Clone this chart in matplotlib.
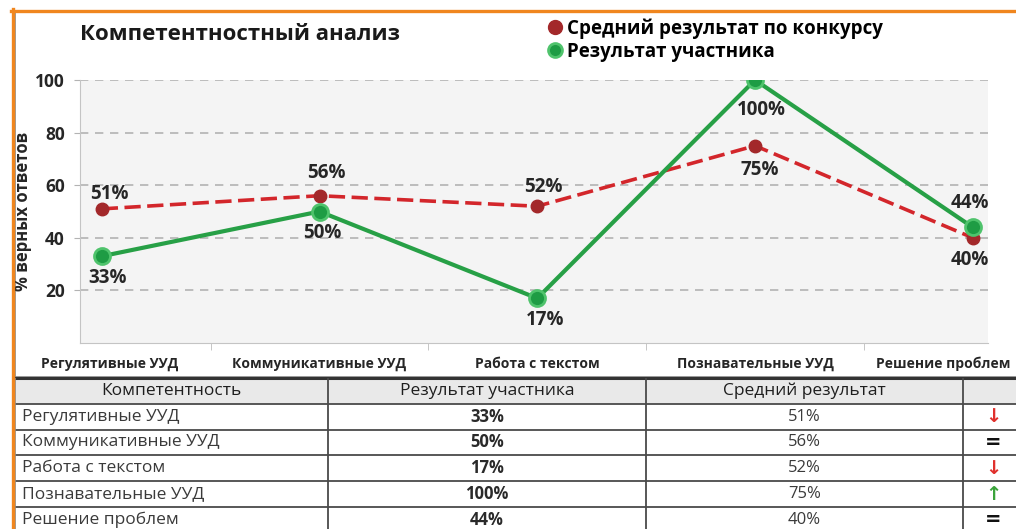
import matplotlib
matplotlib.use('Agg')
import matplotlib.pyplot as plt
import matplotlib.transforms as mtransforms
from matplotlib.lines import Line2D
from matplotlib.patches import Rectangle

plt.rcParams['font.family'] = ['Open Sans', 'DejaVu Sans']

# данные
categories = ['Регулятивные УУД', 'Коммуникативные УУД', 'Работа с текстом',
              'Познавательные УУД', 'Решение проблем']
avg_result = [51, 56, 52, 75, 40]
participant = [33, 50, 17, 100, 44]
y_ticks = [20, 40, 60, 80, 100]

table_header = ['Компетентность', 'Результат участника', 'Средний результат', '']

# смещения подписей (пиксели)
avg_offsets = [(8, 15), (7, 23), (6, 19), (5, -24), (-3, -22)]
part_offsets = [(6, -22), (3, -21), (8, -22), (6, -30), (-3, 24)]

RED_LINE = '#d3262b'
RED_MARK = '#a3282a'
GREEN = '#27a046'
GREEN_EDGE = '#4fc36c'
W, H = 1016, 529


def fx(px):
    return px / W


def fy(py):
    return 1 - py / H


fig = plt.figure(figsize=(W / 100, H / 100), dpi=100)
fig.patch.set_facecolor('white')

# рамка области диаграммы
fig.add_artist(Rectangle((fx(15), fy(377)), fx(1040), fy(11) - fy(377),
                         transform=fig.transFigure, fc='white', ec='#8a8a8a', lw=1.2,
                         zorder=-5))
fig.add_artist(Line2D([fx(12.5), fx(12.5)], [0, fy(9)], transform=fig.transFigure,
                      color='#f0861e', lw=2.4, zorder=5))
fig.add_artist(Line2D([fx(11), 1], [fy(10.5), fy(10.5)], transform=fig.transFigure,
                      color='#f0861e', lw=2.4, zorder=5))

ax = fig.add_axes([fx(80), fy(343), fx(908), fy(80) - fy(343)])
ax.set_facecolor('#f4f4f4')
x = list(range(len(categories)))

ax.plot(x, avg_result, color=RED_LINE, lw=2.6, ls=(0, (4.5, 1.8)), marker='o', ms=9,
        mfc=RED_MARK, mec=RED_MARK, zorder=3)
ax.plot(x, participant, color=GREEN, lw=3.0, marker='o', ms=11.5,
        mfc='#1e9c44', mec=GREEN_EDGE, mew=2, zorder=4)

for xi, v, off in zip(x, avg_result, avg_offsets):
    ax.annotate(f'{v}%', (xi, v), xytext=off, textcoords='offset pixels',
                ha='center', va='center', fontsize=13.5, fontweight='bold', color='#262626')
for xi, v, off in zip(x, participant, part_offsets):
    ax.annotate(f'{v}%', (xi, v), xytext=off, textcoords='offset pixels',
                ha='center', va='center', fontsize=13.5, fontweight='bold', color='#262626')

ax.set_xlim(-0.1, 4.07)
ax.set_ylim(0, 100)
ax.set_yticks(y_ticks)
ax.yaxis.grid(True, ls=(0, (5, 4)), color='#b3b3b3', lw=1.2)
ax.set_axisbelow(True)
ax.tick_params(axis='y', length=4, color='#b3b3b3', pad=7, labelsize=12.5,
               labelcolor='#262626')
for lab in ax.get_yticklabels():
    lab.set_fontweight('bold')

ax.set_xticks(x)
ax.set_xticklabels(categories, fontsize=10, fontweight='bold', color='#262626')
ax.set_xticks([0.5, 1.5, 2.5, 3.5], minor=True)
ax.tick_params(axis='x', which='major', length=0, pad=10)
ax.tick_params(axis='x', which='minor', length=5, color='#bdbdbd')
last = ax.get_xticklabels()[-1]
last.set_transform(last.get_transform() +
                   mtransforms.ScaledTranslation(-0.30, 0, fig.dpi_scale_trans))
first = ax.get_xticklabels()[0]
first.set_transform(first.get_transform() +
                    mtransforms.ScaledTranslation(0.08, 0, fig.dpi_scale_trans))

for s in ['top', 'right']:
    ax.spines[s].set_visible(False)
for s in ['left', 'bottom']:
    ax.spines[s].set_color('#c4c4c4')
ax.set_ylabel('% верных ответов', fontsize=12, fontweight='bold', labelpad=2,
              color='#262626')

fig.text(fx(80), fy(34), 'Компетентностный анализ', fontsize=16, fontweight='bold',
         va='center', color='#1a1a1a')

handles = [
    Line2D([], [], ls='none', marker='o', ms=10, mfc=RED_MARK, mec=RED_MARK),
    Line2D([], [], ls='none', marker='o', ms=10, mfc='#1e9c44', mec=GREEN_EDGE, mew=2),
]
fig.legend(handles, ['Средний результат по конкурсу', 'Результат участника'],
           loc='upper left', bbox_to_anchor=(fx(540), fy(11)), frameon=False,
           prop={'size': 13.5, 'weight': 'bold'}, handlelength=0.8, handletextpad=0.25,
           labelspacing=0.15, borderaxespad=0)

# таблица
n_rows = len(categories) + 1
row_h = 25.8
tax = fig.add_axes([fx(15), fy(378 + n_rows * row_h), fx(1040), n_rows * row_h / H])
tax.set_xlim(0, 1040)
tax.set_ylim(n_rows, 0)
tax.axis('off')
col_edges = [0, 313, 631, 948, 1040]

tax.add_patch(Rectangle((0, 0), 1040, 1, fc='#e9e9e9', ec='none'))
for r in range(n_rows + 1):
    tax.plot([0, 1040], [r, r], color='#333333' if r == 0 else '#4a4a4a',
             lw=2.2 if r == 0 else 1.3, clip_on=False)
for c in col_edges[1:-1]:
    tax.plot([c, c], [0, n_rows], color='#4a4a4a', lw=1.3)
tax.plot([0, 0], [0, n_rows], color='#8a8a8a', lw=1.2)

for i, txt in enumerate(table_header):
    tax.text((col_edges[i] + col_edges[i + 1]) / 2 if i < 3 else 978, 0.5, txt,
             ha='center', va='center', fontsize=12.5, color='#1e1e1e')

for r, (cat, p, a) in enumerate(zip(categories, participant, avg_result), start=1):
    yc = r + 0.5
    tax.text(7, yc, cat, ha='left', va='center', fontsize=12.5, color='#3a3a3a')
    tax.text((col_edges[1] + col_edges[2]) / 2, yc, f'{p}%', ha='center', va='center',
             fontsize=12, fontweight='bold', color='#2a2a2a')
    tax.text((col_edges[2] + col_edges[3]) / 2, yc, f'{a}%', ha='center', va='center',
             fontsize=12, color='#3a3a3a')
    diff = p - a
    if diff <= -10:
        sym, col = '↓', '#e0302c'
    elif diff >= 10:
        sym, col = '↑', '#3aa33a'
    else:
        sym, col = '=', '#111111'
    tax.text(978, yc, sym, ha='center', va='center', fontsize=14, fontweight='bold',
             color=col, family='DejaVu Sans')

fig.savefig('out.png', dpi=100)
plt.close(fig)
